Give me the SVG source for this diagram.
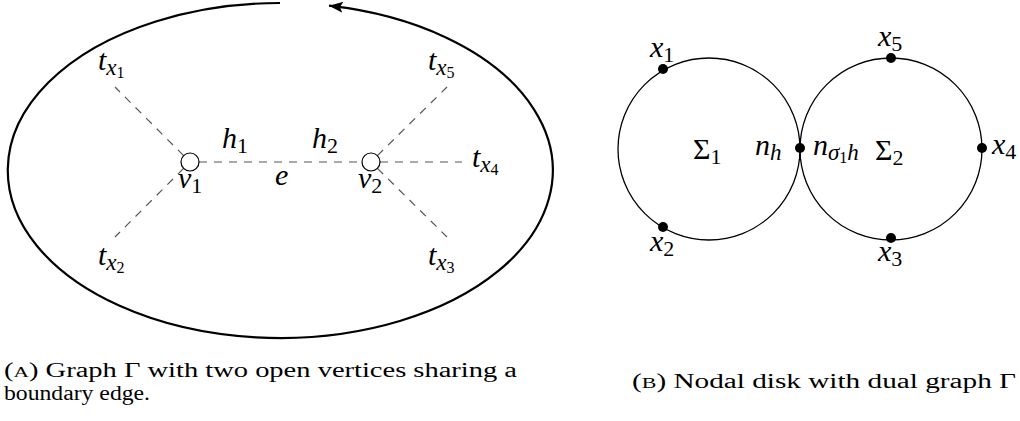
<svg xmlns="http://www.w3.org/2000/svg" width="1020" height="421" viewBox="0 0 1020 421">
<style>
.dash{stroke:#555;stroke-width:1.2;stroke-dasharray:8 7;fill:none}
.open{fill:#fff;stroke:#000;stroke-width:1.2}
.disk{fill:none;stroke:#000;stroke-width:1.3}
.dot{fill:#000}
</style>
<defs>
<marker id="arr" markerUnits="userSpaceOnUse" markerWidth="16" markerHeight="12" refX="14" refY="6" orient="auto">
<path d="M0,0.5 L14,6 L0,11.5 L3,6 Z" fill="#000"/>
</marker>
</defs>

<g id="connectors">
<path d="M280,3 A272.5,167.5 0 1 0 329,5.7" fill="none" stroke="#000" stroke-width="2.2" marker-end="url(#arr)"/>
<line class="dash" x1="199" y1="162" x2="362" y2="162"/>
<line class="dash" x1="380" y1="162" x2="462" y2="162"/>
<line class="dash" x1="183.6" y1="155.6" x2="115" y2="87"/>
<line class="dash" x1="183.6" y1="168.4" x2="115" y2="237"/>
<line class="dash" x1="377.4" y1="155.6" x2="447" y2="87"/>
<line class="dash" x1="377.4" y1="168.4" x2="447" y2="237"/>
</g>

<g font-family="Liberation Serif, Times New Roman, serif" fill="#000">
<g font-size="30" font-style="italic">
<g id="v1"><circle class="open" cx="190" cy="162" r="9"/>
<text x="178" y="188">v<tspan font-size="22" font-style="normal" dy="5">1</tspan></text></g>
<g id="v2"><circle class="open" cx="371" cy="162" r="9"/>
<text x="358" y="188">v<tspan font-size="22" font-style="normal" dy="5">2</tspan></text></g>

<g id="labels-left">
<text x="98" y="70">t<tspan font-size="23" dy="5">x</tspan><tspan font-size="16" font-style="normal" dy="3">1</tspan></text>
<text x="98" y="265">t<tspan font-size="23" dy="5">x</tspan><tspan font-size="16" font-style="normal" dy="3">2</tspan></text>
<text x="428" y="70">t<tspan font-size="23" dy="5">x</tspan><tspan font-size="16" font-style="normal" dy="3">5</tspan></text>
<text x="428" y="265">t<tspan font-size="23" dy="5">x</tspan><tspan font-size="16" font-style="normal" dy="3">3</tspan></text>
<text x="472" y="167">t<tspan font-size="23" dy="5">x</tspan><tspan font-size="16" font-style="normal" dy="3">4</tspan></text>
<text x="222" y="148">h<tspan font-size="22" font-style="normal" dy="5">1</tspan></text>
<text x="312" y="148">h<tspan font-size="22" font-style="normal" dy="5">2</tspan></text>
<text x="275" y="185">e</text>
</g>

<g id="sigma1">
<circle class="disk" cx="709" cy="149" r="91"/>
<text x="693" y="159" font-style="normal">Σ<tspan font-size="22" dy="5">1</tspan></text>
</g>
<g id="sigma2">
<circle class="disk" cx="891" cy="149" r="91"/>
<text x="875" y="160" font-style="normal">Σ<tspan font-size="22" dy="5">2</tspan></text>
</g>

<g id="x1"><circle class="dot" cx="663" cy="69" r="5"/>
<text x="650" y="57">x<tspan font-size="22" font-style="normal" dy="5">1</tspan></text></g>
<g id="x2"><circle class="dot" cx="663" cy="227" r="5"/>
<text x="650" y="251">x<tspan font-size="22" font-style="normal" dy="5">2</tspan></text></g>
<g id="node"><circle class="dot" cx="800" cy="148" r="5"/>
<text x="755" y="155">n<tspan font-size="23" dy="5">h</tspan></text>
<text x="813" y="155">n<tspan font-size="23" dy="5">σ</tspan><tspan font-size="16" font-style="normal" dy="3">1</tspan><tspan font-size="23" dy="-3">h</tspan></text></g>
<g id="x5"><circle class="dot" cx="891" cy="58" r="5"/>
<text x="878" y="46">x<tspan font-size="22" font-style="normal" dy="5">5</tspan></text></g>
<g id="x3"><circle class="dot" cx="891" cy="238" r="5"/>
<text x="878" y="261">x<tspan font-size="22" font-style="normal" dy="5">3</tspan></text></g>
<g id="x4"><circle class="dot" cx="982" cy="148" r="5"/>
<text x="992" y="154">x<tspan font-size="22" font-style="normal" dy="5">4</tspan></text></g>
</g>

<g id="captions" font-size="20">
<text x="4" y="377" textLength="513" lengthAdjust="spacingAndGlyphs">(<tspan font-size="15">A</tspan>) Graph Γ with two open vertices sharing a</text>
<text x="4" y="400" textLength="146" lengthAdjust="spacingAndGlyphs">boundary edge.</text>
<text x="632" y="388" textLength="384" lengthAdjust="spacingAndGlyphs">(<tspan font-size="15">B</tspan>) Nodal disk with dual graph Γ</text>
</g>
</g>
</svg>
